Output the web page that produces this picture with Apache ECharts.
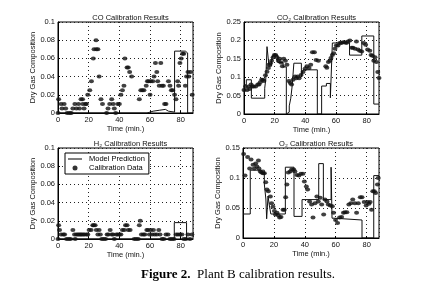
<!DOCTYPE html>
<html>
<head>
<meta charset="utf-8">
<script src="https://cdn.jsdelivr.net/npm/echarts@6/dist/echarts.min.js"></script>
<style>
  html, body { margin: 0; padding: 0; background: #fff; }
  #chart { width: 432px; height: 291px; }
</style>
</head>
<body>
<div id="chart"></div>
<script>
// measured calibration data, [time (min), dry gas fraction]
const coPoints = [[0,0],[0.4,0.015],[2,0.01],[2.6,0.005],[4,0.01],[5,0.005],[6,0],[7.5,0],[8.6,0],[9.7,0.005],[11,0.01],[12,0.005],[13.4,0.01],[14,0.005],[15,0.015],[16,0.015],[16.2,0.01],[17,0.005],[18,0.01],[18.5,0.01],[19.4,0.02],[20.7,0.025],[21.8,0.035],[23,0.06],[23.5,0.07],[24.8,0.08],[25,0.07],[26,0.07],[26.8,0.04],[28,0.015],[29,0.01],[31.7,0],[32.6,0.005],[33.7,0.01],[35,0.015],[36,0.01],[36.7,0.005],[37.6,0],[39,0.01],[40,0.01],[41,0.02],[42,0.025],[43,0.03],[43.6,0.06],[45,0.05],[45.8,0.05],[46.7,0.045],[48,0.04],[53,0.015],[54,0.025],[55,0.025],[56,0.025],[57.5,0.03],[58.3,0.035],[59,0.035],[60,0.02],[60.5,0.035],[61.8,0.035],[62.6,0.04],[63.5,0.055],[64.4,0.045],[65,0.035],[66,0.03],[67,0.055],[67.8,0.03],[68.7,0.03],[69.5,0.01],[70.4,0.01],[72,0.035],[73,0.03],[73.9,0.025],[74.7,0.025],[76,0.02],[76.9,0.015],[78,0.035],[78.6,0.03],[79.5,0.055],[80.3,0.06],[81.2,0.065],[82,0.065],[83,0.03],[83.8,0.04],[84.7,0.045],[85.3,0.04],[86.4,0.045],[87.5,0.02]];
const co2Points = [[0,0.065],[1,0.075],[2,0.065],[3,0.075],[3.7,0.068],[4.6,0.08],[5.4,0.075],[6.3,0.075],[7.6,0.075],[9,0.08],[9.8,0.08],[10.6,0.086],[11.5,0.093],[12.4,0.093],[13,0.09],[14,0.105],[15,0.115],[15.9,0.125],[16.3,0.134],[17.2,0.138],[18,0.145],[19,0.154],[19.8,0.16],[20.6,0.16],[21.5,0.154],[22.4,0.145],[23.3,0.15],[24,0.14],[25,0.13],[25.9,0.15],[27,0.145],[28,0.134],[29.3,0.09],[30.2,0.084],[31,0.08],[32,0.093],[33.3,0.102],[34,0.097],[35,0.102],[35.9,0.097],[37.2,0.106],[38.5,0.114],[39.8,0.123],[41,0.13],[42.4,0.125],[43.5,0.134],[44.6,0.168],[45.9,0.168],[47,0.147],[48.5,0.145],[53.3,0.13],[54,0.126],[55,0.141],[56,0.145],[56.7,0.152],[57.6,0.16],[58.5,0.165],[59.3,0.177],[60.2,0.186],[61.3,0.186],[62.4,0.193],[63.5,0.193],[64.6,0.195],[65.7,0.195],[66.7,0.193],[67.8,0.197],[69,0.2],[70.2,0.18],[71,0.18],[72.4,0.177],[73.3,0.197],[74.3,0.175],[75.4,0.172],[76.7,0.17],[78,0.193],[79.3,0.188],[80.6,0.175],[82,0.172],[82.8,0.16],[83.7,0.158],[84.6,0.145],[85.4,0.154],[86.3,0.141],[87.2,0.114],[88,0.098]];
const h2Points = [[0,0],[0.4,0.015],[1,0.01],[2,0.005],[3.5,0.005],[4.3,0.005],[5.6,0],[7,0],[8.2,0],[9.7,0.01],[10.8,0.005],[11.2,0],[12,0.005],[13,0.005],[13.8,0.005],[14.7,0.005],[15.5,0.005],[16.4,0.005],[17.3,0.005],[18.6,0.005],[19.4,0.005],[20.3,0.01],[21.6,0.01],[22.7,0.015],[23.3,0.015],[24.2,0.015],[25,0.01],[26,0.005],[26.8,0.01],[27.6,0.005],[28.5,0],[29.8,0],[31,0],[32,0.005],[32.8,0.005],[34,0.01],[35,0.005],[35.9,0.005],[36.7,0],[38,0.005],[38.9,0.005],[40,0.005],[41,0.005],[42,0.01],[43.2,0.01],[44,0.015],[45,0.015],[45.8,0.01],[47,0.01],[49.7,0],[51,0],[52.3,0],[53,0.015],[53.6,0.02],[54.4,0.005],[55.7,0.005],[56.6,0.005],[57.9,0.01],[58.7,0.01],[59.6,0.005],[60.5,0.01],[61.3,0.005],[62.2,0.01],[63,0.005],[64.4,0.005],[65.7,0.01],[66.5,0.005],[67.8,0],[69,0],[70.4,0.005],[71.7,0.005],[73,0],[74.3,0],[75.6,0],[77,0.005],[78.2,0.005],[79.5,0.005],[80.8,0.005],[82,0],[83.4,0],[84.7,0.005],[86,0],[87.3,0.005]];
const o2Points = [[0.4,0.14],[1.3,0.104],[3,0.135],[4.3,0.116],[5.2,0.131],[6.5,0.122],[7.3,0.116],[8.2,0.124],[9,0.119],[10,0.129],[10.3,0.116],[11.2,0.111],[12,0.109],[13,0.108],[13.8,0.108],[14.7,0.093],[15.5,0.081],[16.4,0.078],[17.7,0.069],[18.5,0.058],[19.4,0.052],[20.3,0.045],[21,0.039],[22,0.042],[22.8,0.038],[23.7,0.034],[24.6,0.035],[25.9,0.047],[26.7,0.047],[27.6,0.068],[28.4,0.089],[29.3,0.109],[30.6,0.111],[31.5,0.114],[32.8,0.114],[33.6,0.111],[34.9,0.105],[36.2,0.104],[37.5,0.107],[38.8,0.107],[39.7,0.094],[41,0.086],[41.8,0.081],[43.1,0.061],[44.4,0.056],[45.3,0.034],[46.6,0.058],[47.8,0.069],[48.7,0.061],[50,0.067],[50.9,0.056],[52.2,0.039],[53,0.064],[54.3,0.061],[55.2,0.056],[56.5,0.054],[57.8,0.053],[58.6,0.042],[59.9,0.03],[61.2,0.025],[62.5,0.034],[63.8,0.035],[65,0.042],[66,0.043],[67.2,0.043],[68.5,0.056],[69.8,0.058],[71,0.064],[72.4,0.058],[73.5,0.042],[74.6,0.058],[75.9,0.068],[77,0.068],[78.4,0.06],[79.7,0.054],[80.6,0.06],[81.5,0.057],[82.3,0.06],[83.2,0.047],[84,0.078],[85,0.078],[85.8,0.075],[87,0.089],[87.5,0.1]];

// model prediction, step changes [time, value]
const coModel = [[0,0],[58,0.002],[62,0.003],[66,0.004],[70,0.002],[72,0.001],[76,0.068],[83,0.066],[84.5,0],[88,0]];
const co2Model = [[0,0.079],[1.5,0.093],[4.8,0.043],[13.5,0.07],[14.2,0.095],[15,0.183],[16.3,0.13],[18,0.15],[19,0.16],[22,0.14],[25.5,0.128],[27.6,0],[28.2,0.005],[29.5,0.022],[30.5,0.043],[31.5,0.08],[32.5,0.138],[37.4,0.1],[38.5,0.12],[47.8,0],[50.6,0.076],[53.7,0.083],[56.3,0.044],[57.6,0.193],[68.8,0.16],[76.8,0.212],[84.6,0.027],[88,0.027]];
const h2Model = [[0,0],[75.8,0.018],[83.8,0],[88,0]];
const o2Model = [[0,0.04],[4.7,0.113],[13.8,0.09],[14.8,0.065],[15.3,0.032],[16.2,0.07],[17,0.055],[18,0.04],[27.4,0.118],[33,0.036],[38.2,0.064],[49,0.124],[52,0.064],[57,0.118],[57.6,0.033],[59,0.03],[77,0],[84.6,0.104],[88,0.104]];

const xTicks = [0, 20, 40, 60, 80];
const titles = ['CO Calibration Results', 'CO\u2082 Calibration Results', 'H\u2082 Calibration Results', 'O\u2082 Calibration Results'];
const yMax = [0.1, 0.25, 0.1, 0.15];
const yStep = [0.02, 0.05, 0.02, 0.05];

var dom = document.getElementById('chart');
var myChart = echarts.init(dom, null, { renderer: 'canvas' });

const font = 'Liberation Sans';
const grids = [
  { left: 58, top: 22, width: 135, height: 91 },
  { left: 244, top: 22, width: 135, height: 92 },
  { left: 58, top: 148, width: 135, height: 91 },
  { left: 243, top: 148, width: 136, height: 90 }
];
const allPoints = [coPoints, co2Points, h2Points, o2Points];
const allModels = [coModel, co2Model, h2Model, o2Model];

const dotted = { show: true, lineStyle: { color: '#222', type: [1, 3], width: 1 } };

var option = {
  animation: false,
  backgroundColor: '#fff',
  title: titles.map(function (t, i) {
    return {
      text: t,
      left: grids[i].left + grids[i].width / 2,
      top: grids[i].top - 13,
      textAlign: 'center',
      textStyle: { fontFamily: font, fontSize: 7.5, fontWeight: 'normal', color: '#111' }
    };
  }).concat([{
    text: '{b|Figure 2.}  Plant B calibration results.',
    left: 136,
    top: 263,
    textStyle: {
      fontFamily: 'Liberation Serif', fontSize: 13, fontWeight: 'normal', color: '#000',
      rich: { b: { fontFamily: 'Liberation Serif', fontSize: 13, fontWeight: 'bold', color: '#000' } }
    }
  }]),
  legend: {
    orient: 'vertical',
    left: 65,
    top: 153,
    itemGap: 1,
    itemWidth: 14,
    itemHeight: 5,
    padding: [2, 4, 2, 3],
    borderColor: '#000',
    borderWidth: 1,
    backgroundColor: '#fff',
    textStyle: { fontFamily: font, fontSize: 7.5, color: '#000', padding: [0, 0, 0, 2] },
    data: [
      { name: 'Model Prediction', icon: 'path://M0,0 L14,0 L14,1 L0,1 Z', itemStyle: { color: '#000' } },
      { name: 'Calibration Data', icon: 'circle', itemStyle: { color: '#000' } }
    ]
  },
  grid: grids.map(function (g) {
    return Object.assign({ show: true, borderColor: '#000', borderWidth: 1 }, g);
  }),
  xAxis: grids.map(function (g, i) {
    return {
      gridIndex: i,
      type: 'value',
      min: 0,
      max: 88,
      interval: 20,
      name: 'Time (min.)',
      nameLocation: 'middle',
      nameGap: 10,
      nameTextStyle: { fontFamily: font, fontSize: 7.5, color: '#111' },
      axisLine: { lineStyle: { color: '#000' } },
      axisTick: { inside: true, length: 2, lineStyle: { color: '#000' } },
      axisLabel: { fontFamily: font, fontSize: 7.5, color: '#111', margin: 3, showMaxLabel: false,
        formatter: function (v) { return xTicks.indexOf(v) >= 0 ? String(v) : ''; } },
      splitLine: dotted
    };
  }),
  yAxis: grids.map(function (g, i) {
    return {
      gridIndex: i,
      type: 'value',
      min: 0,
      max: yMax[i],
      interval: yStep[i],
      name: 'Dry Gas Composition',
      nameLocation: 'middle',
      nameGap: 17,
      nameTextStyle: { fontFamily: font, fontSize: 7.5, color: '#111' },
      axisLine: { show: true, lineStyle: { color: '#000' } },
      axisTick: { show: true, inside: true, length: 2, lineStyle: { color: '#000' } },
      axisLabel: { fontFamily: font, fontSize: 7.5, color: '#111', margin: 3,
        formatter: function (v) { return String(+v.toFixed(3)); } },
      splitLine: dotted
    };
  }),
  series: []
};

for (let i = 0; i < 4; i++) {
  option.series.push({
    name: 'Model Prediction',
    type: 'line',
    xAxisIndex: i,
    yAxisIndex: i,
    step: 'end',
    symbol: 'none',
    lineStyle: { color: '#111', width: 1 },
    data: allModels[i]
  });
  option.series.push({
    name: 'Calibration Data',
    type: 'scatter',
    xAxisIndex: i,
    yAxisIndex: i,
    symbol: 'circle',
    symbolSize: [5, 4],
    itemStyle: { color: '#111' },
    data: allPoints[i]
  });
}

if (option && typeof option === 'object') {
  myChart.setOption(option);
}
</script>
</body>
</html>
